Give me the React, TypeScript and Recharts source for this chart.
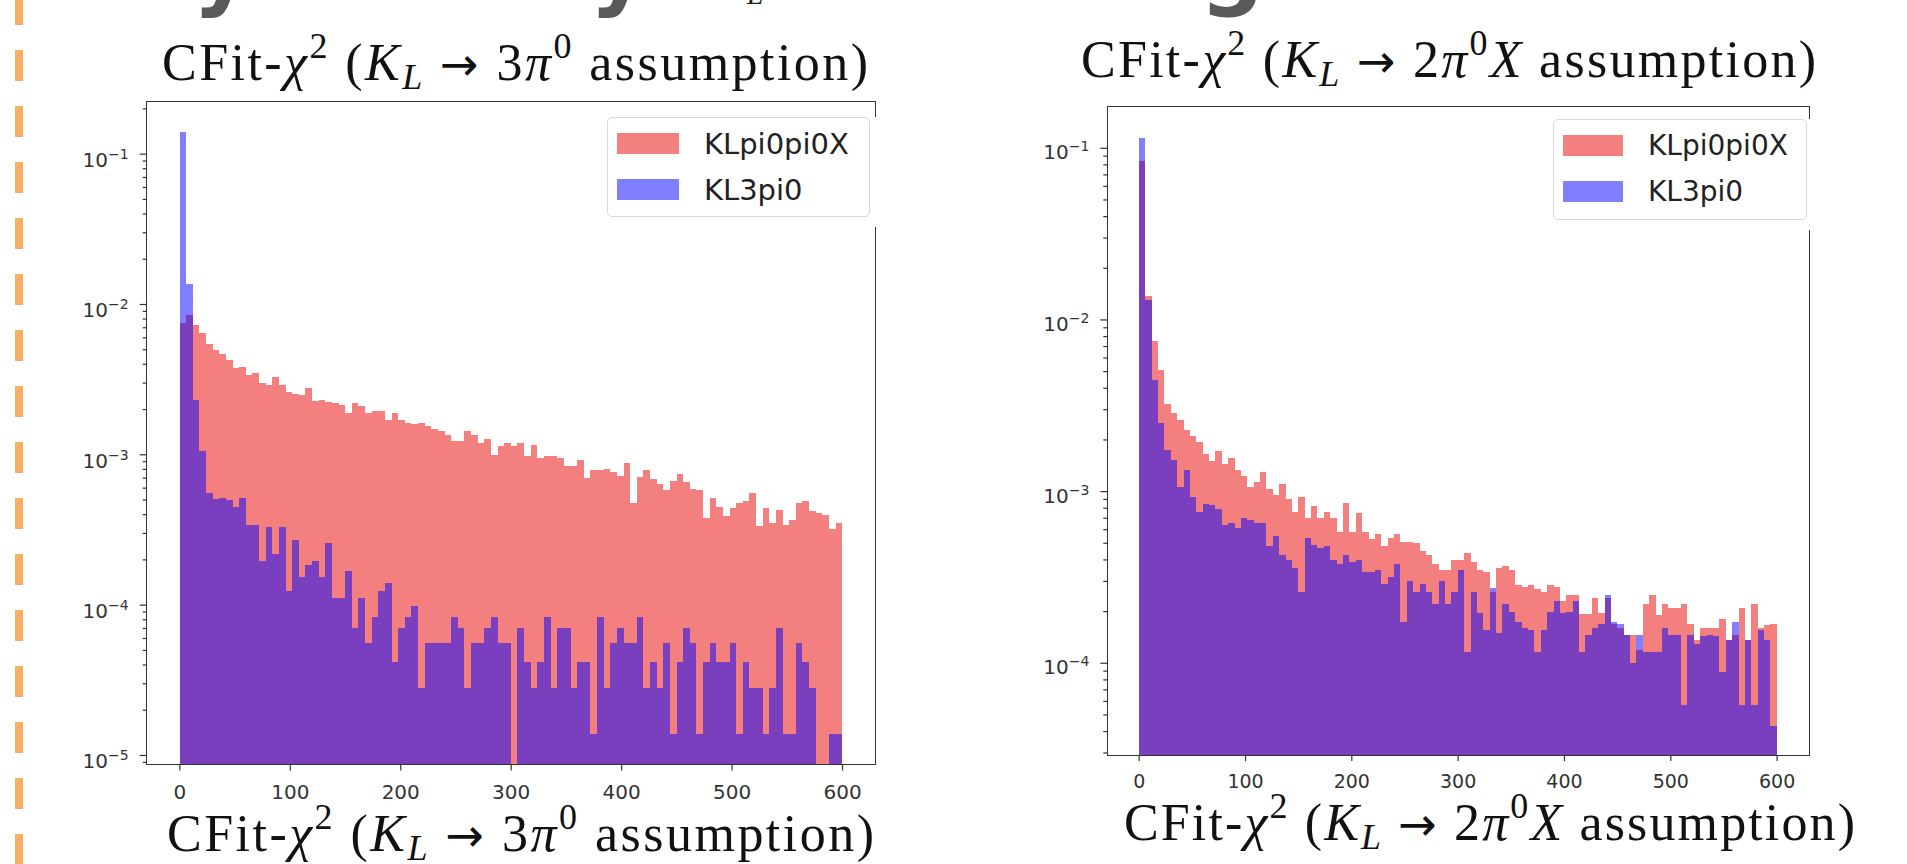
import { BarChart, Bar, XAxis, YAxis } from "recharts"

// histogram bins: 100 bins of width 6 between 0 and 600
const binCenters = Array.from({ length: 100 }, (_, i) => 6 * i + 3)
const xTicks = [0, 100, 200, 300, 400, 500, 600]

// left panel: KL -> 3pi0 assumption
const left3pi0Signal = [
  7.5e-3, 8.5e-3, 7.3e-3, 6.5e-3, 5.5e-3, 5.0e-3, 4.7e-3, 4.25e-3, 3.8e-3, 3.85e-3,
  3.4e-3, 3.5e-3, 3.0e-3, 2.9e-3, 3.3e-3, 2.9e-3, 2.6e-3, 2.55e-3, 2.5e-3, 2.8e-3,
  2.28e-3, 2.3e-3, 2.25e-3, 2.2e-3, 2.15e-3, 1.9e-3, 2.2e-3, 2.1e-3, 1.9e-3, 1.95e-3,
  1.97e-3, 1.7e-3, 1.9e-3, 1.7e-3, 1.64e-3, 1.6e-3, 1.64e-3, 1.55e-3, 1.49e-3, 1.45e-3,
  1.35e-3, 1.23e-3, 1.23e-3, 1.45e-3, 1.35e-3, 1.2e-3, 1.27e-3, 1.0e-3, 1.14e-3, 1.2e-3,
  1.15e-3, 1.2e-3, 9.8e-4, 1.16e-3, 9.5e-4, 9.8e-4, 9.8e-4, 9.5e-4, 8.4e-4, 8.4e-4,
  9.3e-4, 7.0e-4, 7.9e-4, 7.9e-4, 8.1e-4, 7.7e-4, 7.2e-4, 8.8e-4, 4.75e-4, 7.1e-4,
  7.9e-4, 6.9e-4, 6.4e-4, 5.8e-4, 6.7e-4, 7.4e-4, 6.6e-4, 5.9e-4, 5.8e-4, 3.8e-4,
  5.2e-4, 4.5e-4, 3.9e-4, 4.4e-4, 4.75e-4, 4.9e-4, 5.6e-4, 3.35e-4, 4.4e-4, 3.5e-4,
  4.3e-4, 3.4e-4, 3.7e-4, 4.75e-4, 4.9e-4, 4.2e-4, 4.1e-4, 4.0e-4, 3.2e-4, 3.5e-4,
]
const left3pi0Background = [
  0.14, 0.0136, 2.3e-3, 1.06e-3, 5.6e-4, 5.1e-4, 5.2e-4, 5.0e-4, 4.5e-4, 5.2e-4,
  3.4e-4, 3.4e-4, 1.96e-4, 3.3e-4, 2.2e-4, 3.3e-4, 1.24e-4, 2.7e-4, 1.53e-4, 1.84e-4,
  1.96e-4, 1.53e-4, 2.6e-4, 1.12e-4, 1.12e-4, 1.69e-4, 7.1e-5, 1.12e-4, 5.6e-5, 8.4e-5,
  1.24e-4, 1.41e-4, 4.2e-5, 7.0e-5, 8.4e-5, 9.8e-5, 2.8e-5, 5.6e-5, 5.6e-5, 5.6e-5,
  5.6e-5, 8.4e-5, 7.0e-5, 2.8e-5, 5.6e-5, 5.6e-5, 7.0e-5, 8.4e-5, 5.6e-5, 5.6e-5,
  null, 7.0e-5, 4.2e-5, 2.8e-5, 4.2e-5, 8.4e-5, 2.8e-5, 7.0e-5, 7.0e-5, 2.8e-5,
  4.2e-5, 4.2e-5, 1.4e-5, 8.4e-5, 2.8e-5, 5.6e-5, 7.0e-5, 5.6e-5, 5.6e-5, 8.4e-5,
  2.8e-5, 4.2e-5, 2.8e-5, 5.6e-5, 1.4e-5, 4.2e-5, 7.0e-5, 5.6e-5, 1.4e-5, 4.2e-5,
  5.6e-5, 4.2e-5, 4.2e-5, 5.6e-5, 1.4e-5, 4.2e-5, 2.8e-5, 2.8e-5, 1.4e-5, 2.8e-5,
  7.0e-5, 1.4e-5, 1.4e-5, 5.6e-5, 4.2e-5, 2.8e-5, null, null, 1.4e-5, 1.4e-5,
]

// right panel: KL -> 2pi0 X assumption
const right2pi0XSignal = [
  0.084, 0.0137, 7.5e-3, 5.1e-3, 3.23e-3, 2.88e-3, 2.63e-3, 2.29e-3, 2.12e-3, 1.95e-3,
  1.66e-3, 1.5e-3, 1.72e-3, 1.45e-3, 1.56e-3, 1.34e-3, 1.24e-3, 1.07e-3, 1.13e-3, 1.3e-3,
  1.03e-3, 9.6e-4, 1.11e-3, 9.1e-4, 7.6e-4, 9.3e-4, 7.0e-4, 8.2e-4, 7.0e-4, 7.6e-4,
  7.0e-4, 5.8e-4, 8.6e-4, 5.8e-4, 7.5e-4, 5.8e-4, 5.3e-4, 5.7e-4, 4.8e-4, 5.4e-4,
  5.7e-4, 5.1e-4, 5.1e-4, 5.0e-4, 4.5e-4, 4.26e-4, 3.8e-4, 3.5e-4, 3.5e-4, 4.0e-4,
  4.0e-4, 4.4e-4, 3.9e-4, 3.5e-4, 3.4e-4, 2.6e-4, 3.6e-4, 3.7e-4, 3.5e-4, 2.85e-4,
  2.8e-4, 2.85e-4, 2.7e-4, 2.6e-4, 2.85e-4, 2.8e-4, 2.3e-4, 2.5e-4, 2.5e-4, 1.93e-4,
  1.93e-4, 2.4e-4, 1.97e-4, 2.4e-4, 1.7e-4, 1.6e-4, 1.46e-4, 1.46e-4, 1.2e-4, 2.2e-4,
  2.5e-4, 1.9e-4, 2.2e-4, 2.1e-4, 2.1e-4, 2.2e-4, 1.7e-4, 1.37e-4, 1.6e-4, 1.6e-4,
  1.6e-4, 1.8e-4, 1.37e-4, 1.46e-4, 2.1e-4, 1.37e-4, 2.2e-4, 1.6e-4, 1.68e-4, 1.7e-4,
]
const right2pi0XBackground = [
  0.115, 0.013, 4.48e-3, 2.52e-3, 1.74e-3, 1.53e-3, 1.07e-3, 1.34e-3, 9.3e-4, 7.6e-4,
  8.5e-4, 8.3e-4, 7.9e-4, 6.4e-4, 6.6e-4, 6.1e-4, 7.0e-4, 6.8e-4, 6.6e-4, 6.6e-4,
  4.8e-4, 5.5e-4, 4.26e-4, 4.0e-4, 3.6e-4, 2.6e-4, 5.4e-4, 4.9e-4, 4.7e-4, 4.8e-4,
  4.0e-4, 3.8e-4, 4.26e-4, 3.9e-4, 4.0e-4, 3.4e-4, 3.4e-4, 3.5e-4, 2.9e-4, 3.2e-4,
  3.8e-4, 1.75e-4, 3.0e-4, 2.6e-4, 2.9e-4, 2.6e-4, 2.2e-4, 3.0e-4, 2.2e-4, 2.6e-4,
  3.5e-4, 1.17e-4, 2.6e-4, 1.97e-4, 1.56e-4, 2.75e-4, 1.5e-4, 2.2e-4, 2.0e-4, 1.75e-4,
  1.6e-4, 1.56e-4, 1.17e-4, 1.56e-4, 2.0e-4, 2.3e-4, 1.97e-4, 2.0e-4, 2.3e-4, 1.17e-4,
  1.46e-4, 1.6e-4, 1.7e-4, 2.5e-4, 1.75e-4, 1.7e-4, 1.46e-4, 1.0e-4, 1.46e-4, 1.17e-4,
  1.17e-4, 1.17e-4, 1.6e-4, 1.46e-4, 1.46e-4, 5.7e-5, 1.46e-4, 1.3e-4, 1.45e-4, 1.46e-4,
  1.45e-4, 8.9e-5, 1.36e-4, 1.75e-4, 5.7e-5, 1.36e-4, 5.7e-5, 1.56e-4, 1.36e-4, 4.3e-5,
]

const seriesNames = ["KLpi0pi0X", "KL3pi0"]

const RED = "#e80000"
const BLUE = "#0000ff"
const INK = "#333"

function logTicks(lo: number, hi: number) {
  const out: number[] = []
  for (let e = -6; e <= 0; e++) {
    for (let m = 1; m <= 9; m++) {
      const v = m * Math.pow(10, e)
      if (v >= lo && v <= hi) out.push(v)
    }
  }
  return out
}

function LogTick(props: any) {
  const { x, y, payload, labelDy } = props
  const e = Math.log10(payload.value)
  const major = Math.abs(e - Math.round(e)) < 1e-6
  return (
    <g>
      <line x1={x} x2={x - (major ? 7 : 4)} y1={y} y2={y} stroke={INK} strokeWidth={1.2} />
      {major && (
        <text x={x - 18} y={y + labelDy} textAnchor="end" fontFamily="DejaVu Sans" fontSize={20} fill={INK}>
          10
          <tspan fontSize={14} dy={-8}>{"\u2212" + Math.abs(Math.round(e))}</tspan>
        </text>
      )}
    </g>
  )
}

// full-bin rect centred on the library's bar position, so neighbouring bins meet without seams
function makeHistRect(binPx: number) {
  return function HistRect(p: any) {
    if (!(p.height > 0) || !(p.width > 0)) return <g />
    const cx = p.x + p.width / 2
    return (
      <rect
        x={cx - binPx / 2}
        y={p.y}
        width={binPx}
        height={p.height}
        fill={p.fill}
        fillOpacity={p.fillOpacity}
        shapeRendering="crispEdges"
      />
    )
  }
}

interface PanelProps {
  left: number
  width: number
  height: number
  plot: { left: number; top: number; right: number; bottom: number }
  yDomain: [number, number]
  signal: (number | null)[]
  background: (number | null)[]
  labelDy: number
  xFont: number
  xMargin: number
}

function HistPanel({ left, width, height, plot, yDomain, signal, background, labelDy, xFont, xMargin }: PanelProps) {
  const yWidth = 60
  const xHeight = 50
  const data = binCenters.map((x, i) => ({ x, sig: signal[i], bg: background[i] }))
  const binPx = ((plot.right - plot.left) / 660) * 6
  const shape = makeHistRect(binPx)
  return (
    <div style={{ position: "absolute", left, top: 0, width, height }}>
      <BarChart
        width={width}
        height={height}
        data={data}
        barCategoryGap={0}
        barGap={0}
        margin={{
          top: plot.top,
          left: plot.left - yWidth,
          right: width - plot.right,
          bottom: height - plot.bottom - xHeight,
        }}
      >
        <XAxis
          xAxisId="a"
          dataKey="x"
          type="number"
          domain={[-30, 630]}
          allowDataOverflow
          ticks={xTicks}
          interval={0}
          height={xHeight}
          axisLine={false}
          tickSize={6}
          tickMargin={xMargin}
          tickLine={{ stroke: INK, strokeWidth: 1.2 }}
          tick={{ fontSize: xFont, fill: INK, fontFamily: "DejaVu Sans" }}
        />
        <XAxis xAxisId="b" dataKey="x" type="number" domain={[-30, 630]} allowDataOverflow hide />
        <YAxis
          yAxisId="y"
          type="number"
          scale="log"
          domain={yDomain}
          allowDataOverflow
          ticks={logTicks(yDomain[0], yDomain[1])}
          interval={0}
          width={yWidth}
          axisLine={false}
          tickLine={false}
          tickSize={0}
          tickMargin={0}
          tick={(p: any) => <LogTick {...p} labelDy={labelDy} />}
        />
        <Bar
          xAxisId="a"
          yAxisId="y"
          dataKey="sig"
          fill={RED}
          fillOpacity={0.5}
          barSize={binPx}
          shape={shape}
          isAnimationActive={false}
        />
        <Bar
          xAxisId="b"
          yAxisId="y"
          dataKey="bg"
          fill={BLUE}
          fillOpacity={0.5}
          barSize={binPx}
          shape={shape}
          isAnimationActive={false}
        />
      </BarChart>
      <div
        style={{
          position: "absolute",
          left: plot.left - 0.75,
          top: plot.top - 0.75,
          width: plot.right - plot.left + 1.5,
          height: plot.bottom - plot.top + 1.5,
          border: `1.5px solid ${INK}`,
          boxSizing: "border-box",
          pointerEvents: "none",
        }}
      />
    </div>
  )
}

function LegendBox({ left, top, width, height, swatchW, fontSize }: any) {
  const rows = [
    { name: seriesNames[0], color: RED, y: 15 },
    { name: seriesNames[1], color: BLUE, y: 61 },
  ]
  return (
    <>
      <div style={{ position: "absolute", left: left + width - 2, top, width: 12, height: height + 10, background: "#fff" }} />
      <div
        style={{
          position: "absolute",
          left,
          top,
          width,
          height,
          background: "#fff",
          border: "1.5px solid #d8d8d8",
          borderRadius: 5,
          boxSizing: "border-box",
        }}
      >
        {rows.map((r) => (
          <div key={r.name}>
            <div
              style={{
                position: "absolute",
                left: 9,
                top: r.y,
                width: swatchW,
                height: 21,
                background: r.color,
                opacity: 0.5,
              }}
            />
            <div
              style={{
                position: "absolute",
                left: swatchW + 34,
                top: r.y - 9,
                lineHeight: "40px",
                height: 40,
                fontFamily: "DejaVu Sans",
                fontSize,
                color: "#222",
                whiteSpace: "nowrap",
              }}
            >
              {r.name}
            </div>
          </div>
        ))}
      </div>
    </>
  )
}

function Title({ x, y, width, num, withX }: { x: number; y: number; width: number; num: string; withX?: boolean }) {
  return (
    <text
      x={x}
      y={y}
      fontFamily="'Liberation Serif', serif"
      fontSize={52}
      fill="#111"
      textLength={width}
      lengthAdjust="spacing"
    >
      CFit-<tspan fontStyle="italic">χ</tspan>
      <tspan fontSize={36} dy={-22}>2</tspan>
      <tspan dy={22}>{" ("}</tspan>
      <tspan fontStyle="italic">K</tspan>
      <tspan fontStyle="italic" fontSize={36} dy={9}>L</tspan>
      <tspan dy={-9}>{" "}</tspan>
      <tspan fontFamily="DejaVu Sans" fontSize={46}>{"\u2192"}</tspan>
      <tspan>{" " + num}</tspan>
      <tspan fontStyle="italic">π</tspan>
      <tspan fontSize={36} dy={-22}>0</tspan>
      {withX ? (
        <>
          <tspan dy={22} fontStyle="italic">X</tspan>
          <tspan>{" assumption)"}</tspan>
        </>
      ) : (
        <tspan dy={22}>{" assumption)"}</tspan>
      )}
    </text>
  )
}

export default function App() {
  return (
    <div style={{ position: "absolute", left: 0, top: 0, width: 1907, height: 864, background: "#fff", overflow: "hidden" }}>
      <svg width={1907} height={864} style={{ position: "absolute", left: 0, top: 0 }}>
        <line x1={19} y1={-6} x2={19} y2={864} stroke="#f8ad63" strokeWidth={8} strokeDasharray="31 25" />
        {/* bottom edge of the slide heading above the figures */}
        <g fontFamily="DejaVu Sans" fontWeight="bold" fontSize={90} fill="#595959" textAnchor="middle">
          <text x={222} y={-2}>y</text>
          <text x={619} y={-2}>y</text>
          <text x={1232} y={-2}>g</text>
        </g>
        <text x={755} y={4} fontFamily="'Liberation Serif', serif" fontStyle="italic" fontSize={30} fill="#222" textAnchor="middle">L</text>
        <Title x={162} y={80} width={706} num="3" />
        <Title x={1081} y={77} width={735} num="2" withX />
        <Title x={167} y={851} width={707} num="3" />
        <Title x={1124} y={840} width={731} num="2" withX />
      </svg>
      <HistPanel
        left={0}
        width={900}
        height={820}
        plot={{ left: 146.7, top: 102, right: 875.7, bottom: 764.5 }}
        yDomain={[Math.pow(10, -5.06), Math.pow(10, -0.653)]}
        signal={left3pi0Signal}
        background={left3pi0Background}
        labelDy={13}
        xFont={20}
        xMargin={14}
      />
      <HistPanel
        left={950}
        width={900}
        height={820}
        plot={{ left: 157.3, top: 106.4, right: 859, bottom: 755.1 }}
        yDomain={[Math.pow(10, -4.535), Math.pow(10, -0.756)]}
        signal={right2pi0XSignal}
        background={right2pi0XBackground}
        labelDy={11}
        xFont={19}
        xMargin={13}
      />
      <LegendBox left={607} top={117} width={263} height={100} swatchW={62} fontSize={29} />
      <LegendBox left={1553} top={119} width={254} height={101} swatchW={60} fontSize={28} />
    </div>
  )
}
